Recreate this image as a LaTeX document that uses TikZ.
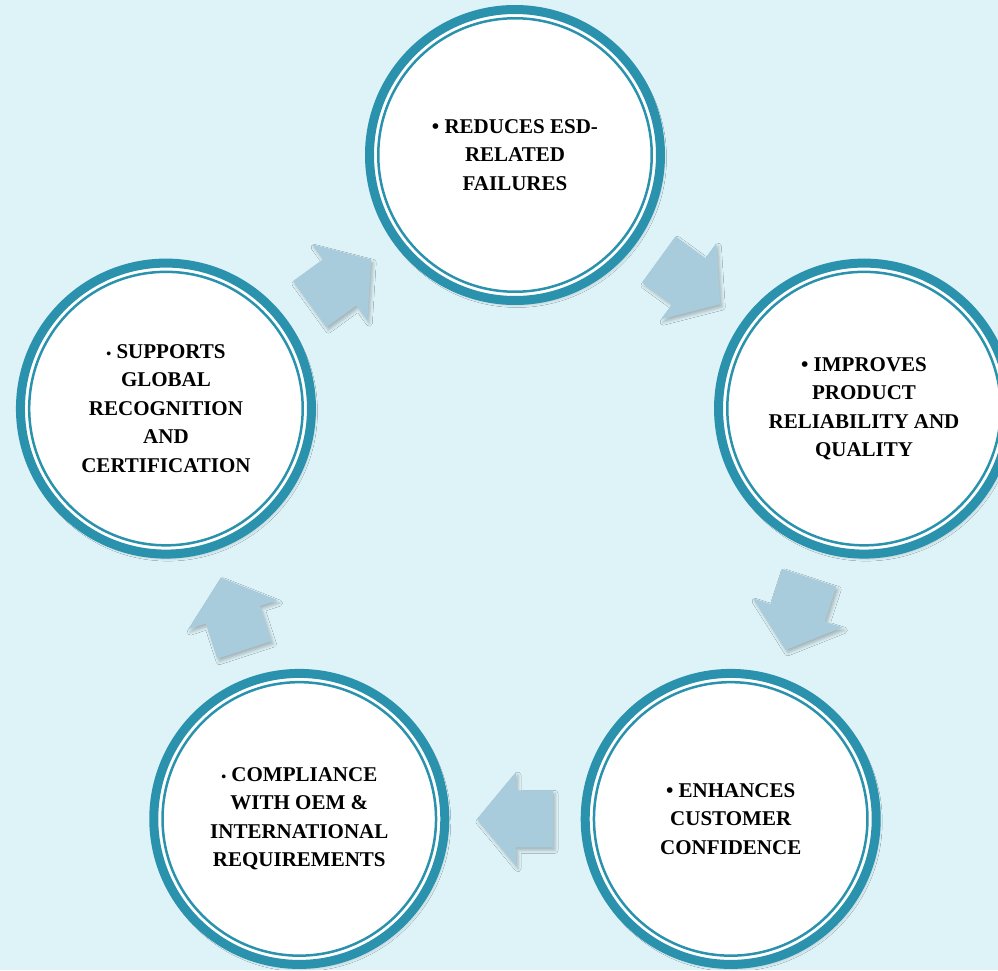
\documentclass[tikz,border=0pt]{standalone}
\usepackage{fontspec}
\setmainfont{Liberation Serif}
\usetikzlibrary{calc,shadows.blur}
\definecolor{pagebg}{RGB}{221,243,248}
\definecolor{ringteal}{RGB}{42,146,173}
\definecolor{arrowblue}{RGB}{169,204,221}
\newcommand{\smallbullet}{{\fontsize{14}{14}\selectfont\textbullet}}
\tikzset{
  stage/.style={circle, fill=white, draw=ringteal, line width=9pt,
    minimum size=291pt, inner sep=0pt, align=center,
    font=\bfseries\fontsize{21}{28.5}\selectfont,
    blur shadow={shadow xshift=2pt, shadow yshift=-3pt,
      shadow blur radius=4pt, shadow opacity=35}},
  inner ring/.style={draw=ringteal, line width=2.5pt},
  flow/.style={fill=arrowblue,
    blur shadow={shadow xshift=2pt, shadow yshift=-3pt,
      shadow blur radius=3pt, shadow opacity=25}}
}
\begin{document}
\begin{tikzpicture}[x=1pt,y=1pt]
  \useasboundingbox (-515,-448) rectangle (483,522);
  \fill[pagebg] (-515,-448) rectangle (483,522);
  \draw
    (90:367) node[stage] (0) {\textbullet{} REDUCES ESD-\\RELATED\\FAILURES}
    (18:367) node[stage] (1) {\textbullet{} IMPROVES\\PRODUCT\\RELIABILITY AND\\QUALITY}
    (-54:367) node[stage] (2) {\textbullet{} ENHANCES\\CUSTOMER\\CONFIDENCE}
    (-126:367) node[stage] (3) {\smallbullet{} COMPLIANCE\\WITH OEM \&\\INTERNATIONAL\\REQUIREMENTS}
    (162:367) node[stage] (4) {\smallbullet{} SUPPORTS\\GLOBAL\\RECOGNITION\\AND\\CERTIFICATION};
  \begin{scope}[inner ring]
    \foreach \n in {0,...,4}
      \draw (\n) circle (136.75);
  \end{scope}
  \foreach \i/\j/\r in {0/1/-36, 1/2/-108, 2/3/-180, 3/4/-252, 4/0/-324}
    \fill[flow, shift={($(\i)!.5!(\j)$)}, rotate=\r]
      (-38,-28.5) -- (-1,-28.5) -- (-1,-47) -- (38,0)
      -- (-1,47) -- (-1,28.5) -- (-38,28.5) -- cycle;
\end{tikzpicture}
\end{document}
